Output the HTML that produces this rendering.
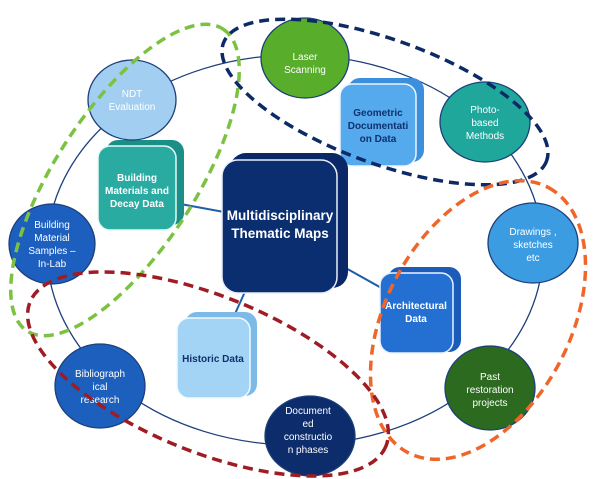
<!DOCTYPE html>
<html><head><style>
html,body{margin:0;padding:0;background:#fff;width:600px;height:479px;overflow:hidden;}
svg{display:block;font-family:"Liberation Sans",sans-serif;}
</style></head><body>
<svg width="600" height="479" viewBox="0 0 600 479" xmlns="http://www.w3.org/2000/svg">
<ellipse cx="295" cy="250" rx="248" ry="195" fill="none" stroke="#1d3f7a" stroke-width="1.3"/>
<g stroke="#1f5fa8" stroke-width="2">
<line x1="175" y1="203" x2="224" y2="212"/>
<line x1="333" y1="165" x2="345" y2="150"/>
<line x1="335" y1="262" x2="385" y2="290"/>
<line x1="248" y1="285" x2="230" y2="325"/>
</g>
<g>
<rect x="106" y="140" width="78" height="85" rx="12" fill="#1a8f88"/>
<rect x="98" y="146" width="78" height="84" rx="12" fill="#2aaba2" stroke="#e8f8f6" stroke-width="1.5"/>
<text fill="#fff" font-size="10" font-weight="bold" text-anchor="middle"><tspan x="137" y="181">Building</tspan><tspan x="137" y="194">Materials and</tspan><tspan x="137" y="207">Decay Data</tspan></text>

<rect x="348" y="78" width="76" height="84" rx="12" fill="#3b8fdc"/>
<rect x="340" y="84" width="76" height="82" rx="12" fill="#55aaee" stroke="#eaf5ff" stroke-width="1.5"/>
<text fill="#10306e" font-size="10" font-weight="bold" text-anchor="middle"><tspan x="378" y="116">Geometric</tspan><tspan x="378" y="129">Documentati</tspan><tspan x="378" y="142">on Data</tspan></text>

<rect x="230" y="153" width="118" height="135" rx="16" fill="#0a2865"/>
<rect x="222" y="160" width="115" height="133" rx="16" fill="#0b2e70" stroke="#e8eefa" stroke-width="1.5"/>
<text fill="#fff" font-size="13.5" font-weight="bold" text-anchor="middle"><tspan x="280" y="220">Multidisciplinary</tspan><tspan x="280" y="238">Thematic Maps</tspan></text>

<rect x="388" y="267" width="73" height="85" rx="12" fill="#1a5cb8"/>
<rect x="380" y="273" width="73" height="80" rx="12" fill="#2370d2" stroke="#eaf2ff" stroke-width="1.5"/>
<text fill="#fff" font-size="10" font-weight="bold" text-anchor="middle"><tspan x="416" y="309">Architectural</tspan><tspan x="416" y="322">Data</tspan></text>

<rect x="185" y="312" width="72" height="84" rx="12" fill="#7cbbe8"/>
<rect x="177" y="318" width="73" height="80" rx="12" fill="#a3d4f5" stroke="#f2faff" stroke-width="1.5"/>
<text fill="#10306e" font-size="10" font-weight="bold" text-anchor="middle"><tspan x="213" y="362">Historic Data</tspan></text>
</g>
<g stroke="#1d3f7a" stroke-width="1.3">
<ellipse cx="132" cy="100" rx="44" ry="40" fill="#a2cff1"/>
<ellipse cx="305" cy="58" rx="44" ry="40" fill="#58ad2a"/>
<ellipse cx="485" cy="122" rx="45" ry="40" fill="#1fa79b"/>
<ellipse cx="533" cy="243" rx="45" ry="40" fill="#3c9ce2"/>
<ellipse cx="490" cy="388" rx="45" ry="42" fill="#2c6a1f"/>
<ellipse cx="310" cy="436" rx="45" ry="40" fill="#0c2c6c"/>
<ellipse cx="100" cy="386" rx="45" ry="42" fill="#1c5fbc"/>
<ellipse cx="52" cy="244" rx="43" ry="40" fill="#1c5fbe"/>
</g>
<g fill="#fff" font-size="10" text-anchor="middle">
<text><tspan x="132" y="97">NDT</tspan><tspan x="132" y="110">Evaluation</tspan></text>
<text><tspan x="305" y="60">Laser</tspan><tspan x="305" y="73">Scanning</tspan></text>
<text><tspan x="485" y="113">Photo-</tspan><tspan x="485" y="126">based</tspan><tspan x="485" y="139">Methods</tspan></text>
<text><tspan x="533" y="235">Drawings ,</tspan><tspan x="533" y="248">sketches</tspan><tspan x="533" y="261">etc</tspan></text>
<text><tspan x="490" y="380">Past</tspan><tspan x="490" y="393">restoration</tspan><tspan x="490" y="406">projects</tspan></text>
<text><tspan x="308" y="414">Document</tspan><tspan x="308" y="427">ed</tspan><tspan x="308" y="440">constructio</tspan><tspan x="308" y="453">n phases</tspan></text>
<text><tspan x="100" y="377">Bibliograph</tspan><tspan x="100" y="390">ical</tspan><tspan x="100" y="403">research</tspan></text>
<text><tspan x="52" y="228">Building</tspan><tspan x="52" y="241">Material</tspan><tspan x="52" y="254">Samples –</tspan><tspan x="52" y="267">In-Lab</tspan></text>
</g>
<g fill="none" stroke-width="3.5" stroke-dasharray="10 6">
<ellipse cx="125" cy="180" rx="180" ry="70" transform="rotate(-57 125 180)" stroke="#7cc242"/>
<ellipse cx="385" cy="102" rx="172" ry="62" transform="rotate(20 385 102)" stroke="#0d2a66"/>
<ellipse cx="478" cy="320" rx="150" ry="92" transform="rotate(-62 478 320)" stroke="#f0662a"/>
<ellipse cx="208" cy="374" rx="192" ry="78" transform="rotate(22 208 374)" stroke="#a01c24"/>
</g>
</svg>
</body></html>
